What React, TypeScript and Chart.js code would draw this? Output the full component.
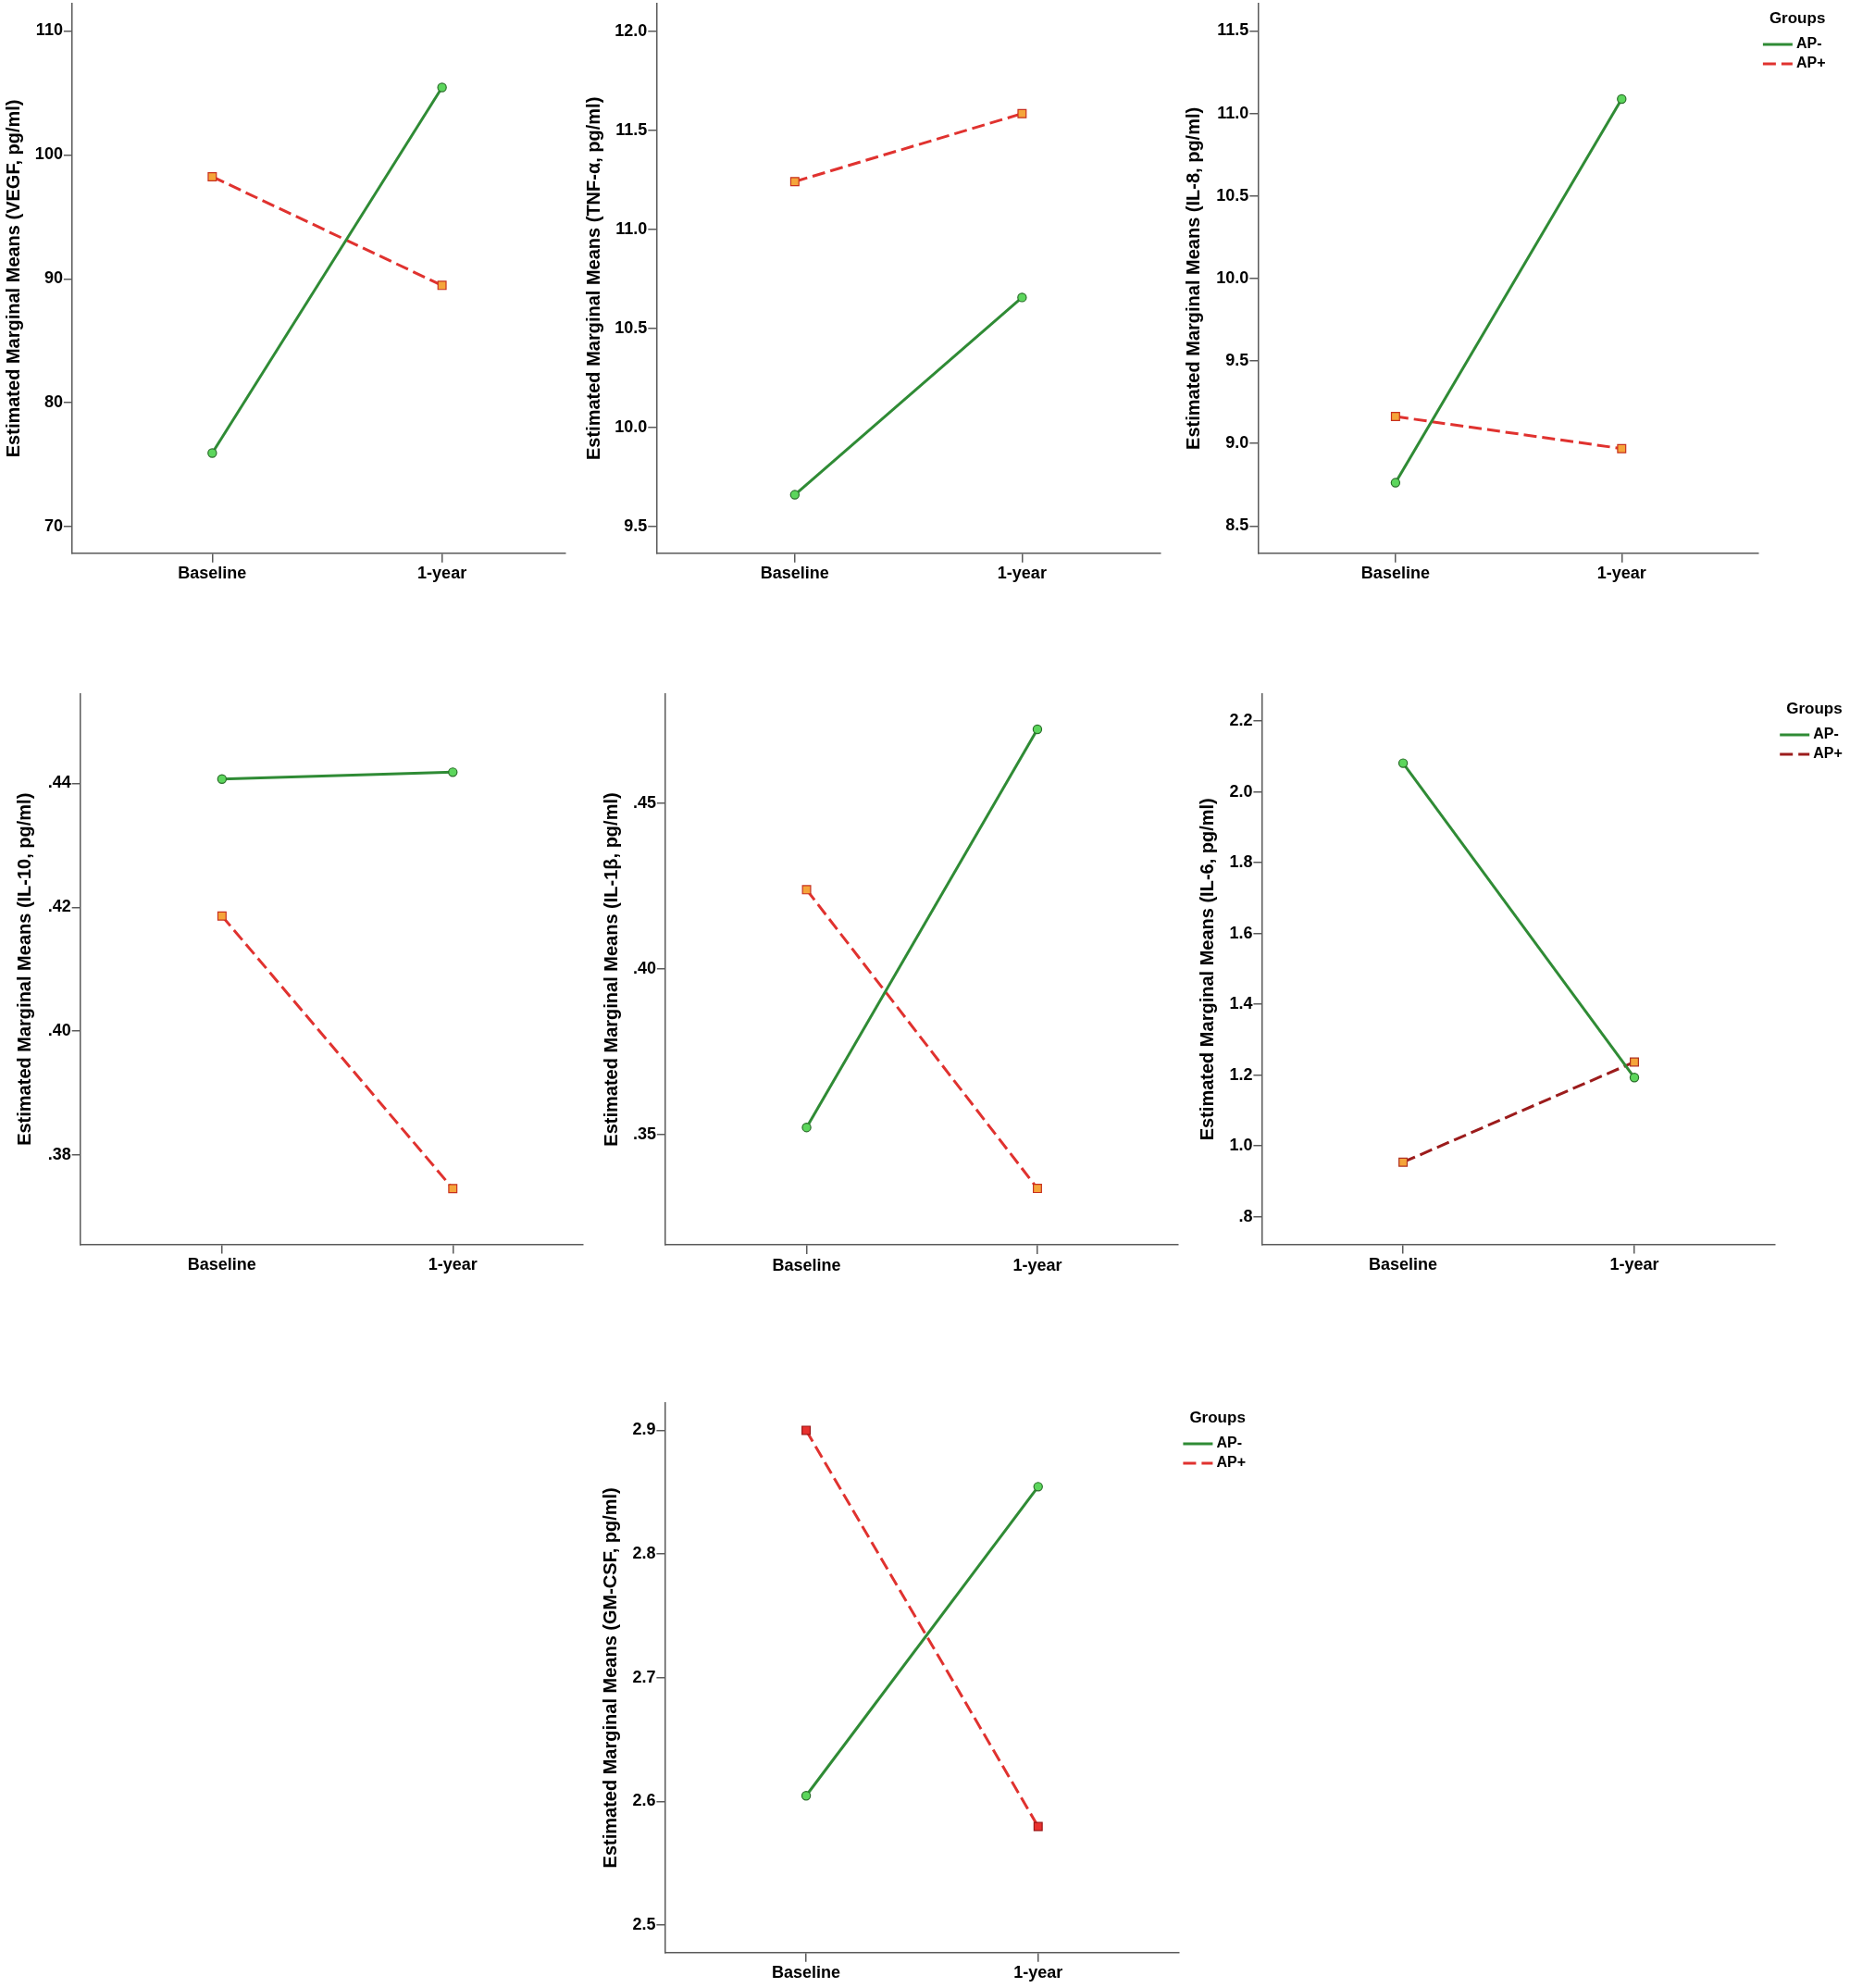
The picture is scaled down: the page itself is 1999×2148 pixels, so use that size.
import React, { useEffect, useRef } from "react";
import { Chart, registerables } from "chart.js";

Chart.register(...registerables);

// ---------- data ----------
const categories = ["Baseline", "1-year"];
const groups = ["AP-", "AP+"];
const legendTitle = "Groups";

const vegfAPneg = [75.94, 105.44];
const vegfAPpos = [98.24, 89.47];
const tnfAPneg = [9.659, 10.655];
const tnfAPpos = [11.24, 11.583];
const il8APneg = [8.762, 11.087];
const il8APpos = [9.163, 8.969];
const il10APneg = [0.4407, 0.4418];
const il10APpos = [0.4186, 0.3746];
const il1bAPneg = [0.3522, 0.4723];
const il1bAPpos = [0.4239, 0.3338];
const il6APneg = [2.081, 1.193];
const il6APpos = [0.954, 1.237];
const gmcsfAPneg = [2.6045, 2.8544];
const gmcsfAPpos = [2.9, 2.5796];

const vegfTicks = [70, 80, 90, 100, 110];
const vegfTickLabels = ["70", "80", "90", "100", "110"];
const tnfTicks = [9.5, 10.0, 10.5, 11.0, 11.5, 12.0];
const tnfTickLabels = ["9.5", "10.0", "10.5", "11.0", "11.5", "12.0"];
const il8Ticks = [8.5, 9.0, 9.5, 10.0, 10.5, 11.0, 11.5];
const il8TickLabels = ["8.5", "9.0", "9.5", "10.0", "10.5", "11.0", "11.5"];
const il10Ticks = [0.38, 0.40, 0.42, 0.44];
const il10TickLabels = [".38", ".40", ".42", ".44"];
const il1bTicks = [0.35, 0.40, 0.45];
const il1bTickLabels = [".35", ".40", ".45"];
const il6Ticks = [0.8, 1.0, 1.2, 1.4, 1.6, 1.8, 2.0, 2.2];
const il6TickLabels = [".8", "1.0", "1.2", "1.4", "1.6", "1.8", "2.0", "2.2"];
const gmcsfTicks = [2.5, 2.6, 2.7, 2.8, 2.9];
const gmcsfTickLabels = ["2.5", "2.6", "2.7", "2.8", "2.9"];

// ---------- styles ----------
const FONT = "'Liberation Sans', Arial, Helvetica, sans-serif";
const AXIS = "#5a5a5a";
const GREEN = "#2f8b35";
const GREEN_FILL = "#5cd65c";
const GREEN_EDGE = "#2a6e2a";
const RED = "#e0322f";
const DARK_RED = "#9c1c1c";
const ORANGE = "#f5a53a";

const styles: Record<string, any> = {
  std: { line: RED, fill: ORANGE, edge: "#c8301e" },
  dark: { line: DARK_RED, fill: ORANGE, edge: "#b03020" },
  red: { line: RED, fill: "#e8302e", edge: "#9a1515" },
};

const panels = [
  {
    title: "Estimated Marginal Means (VEGF, pg/ml)",
    neg: vegfAPneg, pos: vegfAPpos, ticks: vegfTicks, labels: vegfTickLabels,
    yMin: 67.86, yMax: 112.2, xMin: -0.61, xMax: 1.538,
    box: { titleX: 14.7, left: 77.9, right: 611.2, top: 4.2, bottom: 597.7 },
    legend: false, style: "std",
  },
  {
    title: "Estimated Marginal Means (TNF-α, pg/ml)",
    neg: tnfAPneg, pos: tnfAPpos, ticks: tnfTicks, labels: tnfTickLabels,
    yMin: 9.364, yMax: 12.138, xMin: -0.609, xMax: 1.609,
    box: { titleX: 641.6, left: 709.3, right: 1253.9, top: 4.2, bottom: 597.7 },
    legend: false, style: "std",
  },
  {
    title: "Estimated Marginal Means (IL-8, pg/ml)",
    neg: il8APneg, pos: il8APpos, ticks: il8Ticks, labels: il8TickLabels,
    yMin: 8.335, yMax: 11.665, xMin: -0.608, xMax: 1.604,
    box: { titleX: 1290.3, left: 1359.3, right: 1899.9, top: 4.2, bottom: 597.7 },
    legend: true, style: "std",
  },
  {
    title: "Estimated Marginal Means (IL-10, pg/ml)",
    neg: il10APneg, pos: il10APpos, ticks: il10Ticks, labels: il10TickLabels,
    yMin: 0.3656, yMax: 0.4544, xMin: -0.614, xMax: 1.563,
    box: { titleX: 27.2, left: 86.7, right: 629.7, top: 750.4, bottom: 1344.5 },
    legend: false, style: "std",
  },
  {
    title: "Estimated Marginal Means (IL-1β, pg/ml)",
    neg: il1bAPneg, pos: il1bAPpos, ticks: il1bTicks, labels: il1bTickLabels,
    yMin: 0.3168, yMax: 0.4829, xMin: -0.612, xMax: 1.608,
    box: { titleX: 661, left: 718.9, right: 1272.6, top: 750.4, bottom: 1345 },
    legend: false, style: "std",
  },
  {
    title: "Estimated Marginal Means (IL-6, pg/ml)",
    neg: il6APneg, pos: il6APpos, ticks: il6Ticks, labels: il6TickLabels,
    yMin: 0.7219, yMax: 2.276, xMin: -0.611, xMax: 1.609,
    box: { titleX: 1305, left: 1363.4, right: 1918.2, top: 750.4, bottom: 1344.5 },
    legend: true, style: "dark",
  },
  {
    title: "Estimated Marginal Means (GM-CSF, pg/ml)",
    neg: gmcsfAPneg, pos: gmcsfAPpos, ticks: gmcsfTicks, labels: gmcsfTickLabels,
    yMin: 2.4777, yMax: 2.922, xMin: -0.609, xMax: 1.605,
    box: { titleX: 660, left: 718.4, right: 1273.4, top: 1516.2, bottom: 2109.7 },
    legend: true, style: "red",
  },
];

const legendPlugin = {
  id: "groupsLegend",
  afterDraw(chart: any, _args: any, opts: any) {
    if (!opts || !opts.show) return;
    const { ctx, chartArea } = chart;
    const x0 = chartArea.right;
    const y0 = chartArea.top;
    ctx.save();
    ctx.fillStyle = "#000";
    ctx.textAlign = "left";
    ctx.textBaseline = "middle";
    ctx.font = `bold 17px ${FONT}`;
    ctx.fillText(opts.title, x0 + 12, y0 + 16);
    chart.data.datasets.forEach((ds: any, i: number) => {
      const y = y0 + 44 + i * 21;
      ctx.beginPath();
      ctx.strokeStyle = ds.borderColor;
      ctx.lineWidth = 3;
      ctx.setLineDash(ds.borderDash || []);
      ctx.moveTo(x0 + 5, y);
      ctx.lineTo(x0 + 37, y);
      ctx.stroke();
      ctx.setLineDash([]);
      ctx.font = `bold 16px ${FONT}`;
      ctx.fillText(ds.label, x0 + 41, y);
    });
    ctx.restore();
  },
};

function Panel({ p }: { p: any }) {
  const ref = useRef<HTMLCanvasElement | null>(null);
  const padTop = 2;
  const xAxisH = 48;
  const cl = Math.round(p.box.titleX - 12);
  const ct = Math.round(p.box.top) - padTop;
  const yW = p.box.left - cl;
  const areaRight = p.box.right - cl;
  const W = p.legend ? Math.min(1999 - cl, Math.ceil(areaRight + 125)) : Math.ceil(areaRight + 12);
  const rightPad = W - areaRight;
  const H = Math.ceil(p.box.bottom - ct + xAxisH);
  const xH = H - (p.box.bottom - ct);

  useEffect(() => {
    const canvas = ref.current;
    if (!canvas) return;
    const st = styles[p.style];
    const chart = new Chart(canvas, {
      type: "line",
      data: {
        datasets: [
          {
            label: groups[0],
            data: categories.map((_, i) => ({ x: i, y: p.neg[i] })),
            borderColor: GREEN,
            borderWidth: 3,
            pointStyle: "circle",
            pointRadius: 4.6,
            pointBackgroundColor: GREEN_FILL,
            pointBorderColor: GREEN_EDGE,
            pointBorderWidth: 1.2,
            fill: false,
            tension: 0,
          },
          {
            label: groups[1],
            data: categories.map((_, i) => ({ x: i, y: p.pos[i] })),
            borderColor: st.line,
            borderWidth: 3,
            borderDash: [14, 6],
            pointStyle: "rect",
            pointRadius: 6.2,
            pointBackgroundColor: st.fill,
            pointBorderColor: st.edge,
            pointBorderWidth: 1.2,
            fill: false,
            tension: 0,
          },
        ],
      },
      options: {
        animation: false,
        responsive: false,
        maintainAspectRatio: false,
        layout: { autoPadding: false, padding: { left: 0, top: padTop, right: rightPad, bottom: 0 } },
        plugins: {
          legend: { display: false },
          tooltip: { enabled: false },
          groupsLegend: { show: p.legend, title: legendTitle },
        } as any,
        scales: {
          x: {
            type: "linear",
            min: p.xMin,
            max: p.xMax,
            bounds: "data",
            afterBuildTicks: (s: any) => {
              s.ticks = categories.map((_, i) => ({ value: i }));
            },
            afterFit: (s: any) => {
              s.height = xH;
              s.paddingLeft = 0;
              s.paddingRight = 0;
            },
            ticks: {
              autoSkip: false,
              maxRotation: 0,
              minRotation: 0,
              padding: 2,
              color: "#000",
              font: { family: FONT, size: 18, weight: "bold" },
              callback: (_v: any, i: number) => categories[i],
            },
            grid: { drawOnChartArea: false, drawTicks: true, tickLength: 10, color: AXIS, lineWidth: 1.5 },
            border: { display: true, color: AXIS, width: 1.5 },
          },
          y: {
            type: "linear",
            position: "left",
            min: p.yMin,
            max: p.yMax,
            bounds: "data",
            afterBuildTicks: (s: any) => {
              s.ticks = p.ticks.map((v: number) => ({ value: v }));
            },
            afterFit: (s: any) => {
              s.width = yW;
              s.paddingTop = 0;
              s.paddingBottom = 0;
            },
            ticks: {
              autoSkip: false,
              padding: 1,
              color: "#000",
              font: { family: FONT, size: 18, weight: "bold" },
              callback: (_v: any, i: number) => p.labels[i],
            },
            grid: { drawOnChartArea: false, drawTicks: true, tickLength: 9, color: AXIS, lineWidth: 1.5 },
            border: { display: true, color: AXIS, width: 1.5 },
            title: {
              display: true,
              text: p.title,
              color: "#000",
              padding: 0,
              font: { family: FONT, size: 20, weight: "bold" },
            },
          },
        },
      } as any,
      plugins: [legendPlugin as any],
    });
    return () => chart.destroy();
  }, []);

  return (
    <canvas
      ref={ref}
      width={W}
      height={H}
      style={{ position: "absolute", left: cl, top: ct, width: W, height: H }}
    />
  );
}

export default function App() {
  return (
    <div>
      {panels.map((p, i) => (
        <Panel key={i} p={p} />
      ))}
    </div>
  );
}
